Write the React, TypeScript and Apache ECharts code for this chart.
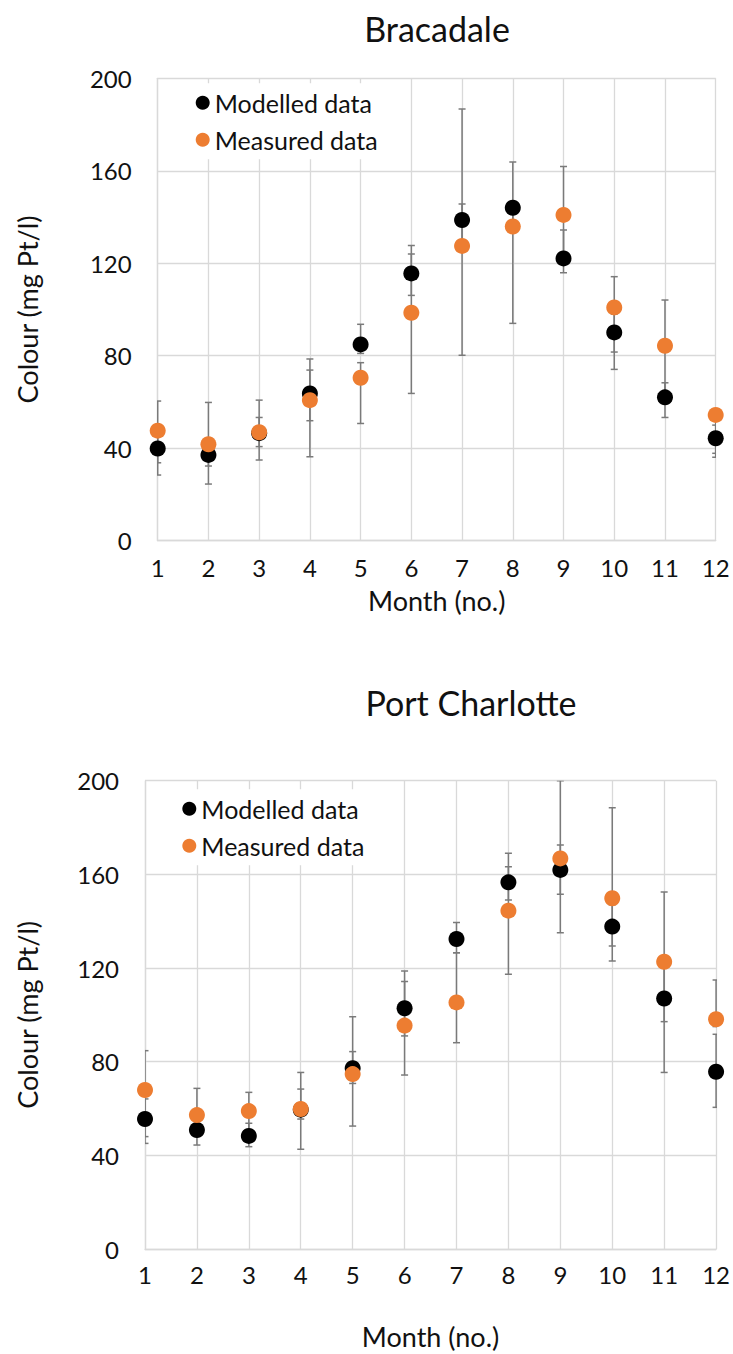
import React, { useEffect, useRef } from "react";
import * as echarts from "echarts";

const months = [1, 2, 3, 4, 5, 6, 7, 8, 9, 10, 11, 12];
const yTicks = [0, 40, 80, 120, 160, 200];

// Bracadale
const bracModelled = [39.9, 37.1, 46.5, 63.7, 84.9, 115.6, 138.7, 144.0, 122.1, 90.1, 62.0, 44.3];
const bracMeasured = [47.6, 41.7, 46.9, 60.8, 70.5, 98.6, 127.5, 135.9, 140.9, 100.9, 84.3, 54.4];
const bracModLow = [28.4, 32.3, 40.7, 51.9, 81.0, 106.1, 128.0, 135.0, 115.9, 81.6, 53.3, 36.1];
const bracModHigh = [46.0, 40.0, 53.3, 73.8, 93.6, 124.0, 145.6, 146.0, 134.4, 98.0, 68.3, 50.0];
const bracMeasLow = [33.7, 24.5, 34.9, 36.3, 50.7, 63.7, 80.2, 94.0, 122.0, 74.1, 64.5, 37.8];
const bracMeasHigh = [60.4, 59.8, 60.8, 78.6, 77.0, 127.7, 186.7, 163.8, 161.8, 114.2, 104.1, 57.0];

// Port Charlotte
const portModelled = [55.5, 50.8, 48.3, 59.5, 77.2, 102.8, 132.4, 156.6, 161.9, 137.7, 107.0, 75.7];
const portMeasured = [67.9, 57.2, 58.9, 59.8, 74.7, 95.4, 105.3, 144.5, 166.8, 149.8, 122.7, 98.1];
const portModLow = [48.0, 44.4, 43.7, 55.5, 70.7, 91.0, 126.5, 149.0, 151.5, 129.4, 97.1, 60.5];
const portModHigh = [64.1, 56.0, 53.7, 68.3, 84.3, 114.2, 139.4, 163.3, 172.5, 147.0, 120.5, 91.7];
const portMeasLow = [45.1, 50.0, 51.0, 42.6, 52.5, 74.3, 88.1, 117.3, 135.1, 123.0, 75.4, 95.0];
const portMeasHigh = [84.7, 68.6, 66.9, 75.4, 99.2, 118.7, 126.5, 169.0, 200.0, 188.5, 152.5, 114.9];

const titles = ["Bracadale", "Port Charlotte"];
const seriesNames = ["Modelled data", "Measured data"];
const xName = "Month (no.)";
const yName = "Colour (mg Pt/l)";

const FONT = "Lato, 'Open Sans', sans-serif";
const TXT = "#111";
const GRID = "#d9d9d9";
const ORANGE = "#ED7D31";

function errRender(params: any, api: any) {
  const x = api.value(0);
  const lo = api.coord([x, api.value(1)]);
  const hi = api.coord([x, api.value(2)]);
  const cw = 3.5;
  const style = { stroke: "#7a7a7a", lineWidth: 1.5, fill: "none" };
  return {
    type: "group",
    children: [
      { type: "line", shape: { x1: lo[0], y1: lo[1], x2: hi[0], y2: hi[1] }, style },
      { type: "line", shape: { x1: lo[0] - cw, y1: lo[1], x2: lo[0] + cw, y2: lo[1] }, style },
      { type: "line", shape: { x1: hi[0] - cw, y1: hi[1], x2: hi[0] + cw, y2: hi[1] }, style },
    ],
  };
}

export default function App() {
  const ref = useRef<HTMLDivElement>(null);
  useEffect(() => {
    document.body.style.margin = "0";
    if (!ref.current) return;
    const chart = echarts.init(ref.current, null, { renderer: "svg" });

    const grids = [
      { left: 157.7, right: 17.3, top: 78.3, height: 462.4 },
      { left: 145, right: 16.3, top: 780.7, height: 468.3 },
    ];
    const yGaps = [117, 104];
    const xGaps = [46, 74];
    const xMargins = [15, 13];

    const xAxes = grids.map((_, i) => ({
      type: "value",
      gridIndex: i,
      min: 1,
      max: 12,
      interval: 1,
      name: xName,
      nameLocation: "middle",
      nameGap: xGaps[i],
      nameTextStyle: { fontFamily: FONT, fontSize: 27, color: TXT },
      axisLine: { show: true, lineStyle: { color: GRID, width: 1.3 } },
      axisTick: { show: false },
      splitLine: { show: true, lineStyle: { color: GRID, width: 1.3 } },
      axisLabel: { fontFamily: FONT, fontSize: 24, color: TXT, margin: xMargins[i] },
    }));
    const yAxes = grids.map((_, i) => ({
      type: "value",
      gridIndex: i,
      min: yTicks[0],
      max: yTicks[yTicks.length - 1],
      interval: 40,
      name: yName,
      nameLocation: "middle",
      nameGap: yGaps[i],
      nameTextStyle: { fontFamily: FONT, fontSize: 27, color: TXT },
      axisLine: { show: true, lineStyle: { color: GRID, width: 1.3 } },
      axisTick: { show: false },
      splitLine: { show: true, lineStyle: { color: GRID, width: 1.3 } },
      axisLabel: { fontFamily: FONT, fontSize: 24, color: TXT, margin: 26 },
    }));

    const sets = [
      { mod: bracModelled, meas: bracMeasured, ml: bracModLow, mh: bracModHigh, el: bracMeasLow, eh: bracMeasHigh },
      { mod: portModelled, meas: portMeasured, ml: portModLow, mh: portModHigh, el: portMeasLow, eh: portMeasHigh },
    ];

    const series: any[] = [];
    sets.forEach((s, i) => {
      series.push({
        type: "custom",
        name: "errMod" + i,
        xAxisIndex: i,
        yAxisIndex: i,
        renderItem: errRender,
        clip: true,
        z: 1,
        data: months.map((m, k) => [m, s.ml[k], s.mh[k]]),
      });
      series.push({
        type: "custom",
        name: "errMeas" + i,
        xAxisIndex: i,
        yAxisIndex: i,
        renderItem: errRender,
        clip: true,
        z: 1,
        data: months.map((m, k) => [m, s.el[k], s.eh[k]]),
      });
      series.push({
        type: "scatter",
        name: seriesNames[0],
        xAxisIndex: i,
        yAxisIndex: i,
        symbol: "circle",
        symbolSize: 16,
        itemStyle: { color: "#000", opacity: 1 },
        z: 2,
        data: months.map((m, k) => [m, s.mod[k]]),
      });
      series.push({
        type: "scatter",
        name: seriesNames[1],
        xAxisIndex: i,
        yAxisIndex: i,
        symbol: "circle",
        symbolSize: 16,
        itemStyle: { color: ORANGE, opacity: 1 },
        z: 3,
        data: months.map((m, k) => [m, s.meas[k]]),
      });
    });

    const legendPos = [
      { left: 185.7, top: 83.3 },
      { left: 172.3, top: 789.3 },
    ];

    chart.setOption({
      animation: false,
      backgroundColor: "#fff",
      title: [
        { text: titles[0], left: 432, top: 6, textAlign: "center", textStyle: { fontFamily: FONT, fontSize: 34, fontWeight: "normal", color: TXT } },
        { text: titles[1], left: 466, top: 680, textAlign: "center", textStyle: { fontFamily: FONT, fontSize: 34, fontWeight: "normal", color: TXT } },
      ],
      grid: grids,
      xAxis: xAxes,
      yAxis: yAxes,
      legend: legendPos.map((p) => ({
        data: seriesNames,
        orient: "vertical",
        left: p.left,
        top: p.top,
        padding: [7, 8, 7, 10],
        backgroundColor: "#fff",
        itemWidth: 14,
        itemHeight: 14,
        itemGap: 12,
        icon: "circle",
        selectedMode: false,
        textStyle: { fontFamily: FONT, fontSize: 25, lineHeight: 25, color: TXT },
      })),
      series,
    });
    return () => chart.dispose();
  }, []);
  return <div ref={ref} style={{ width: 733, height: 1354 }} />;
}
